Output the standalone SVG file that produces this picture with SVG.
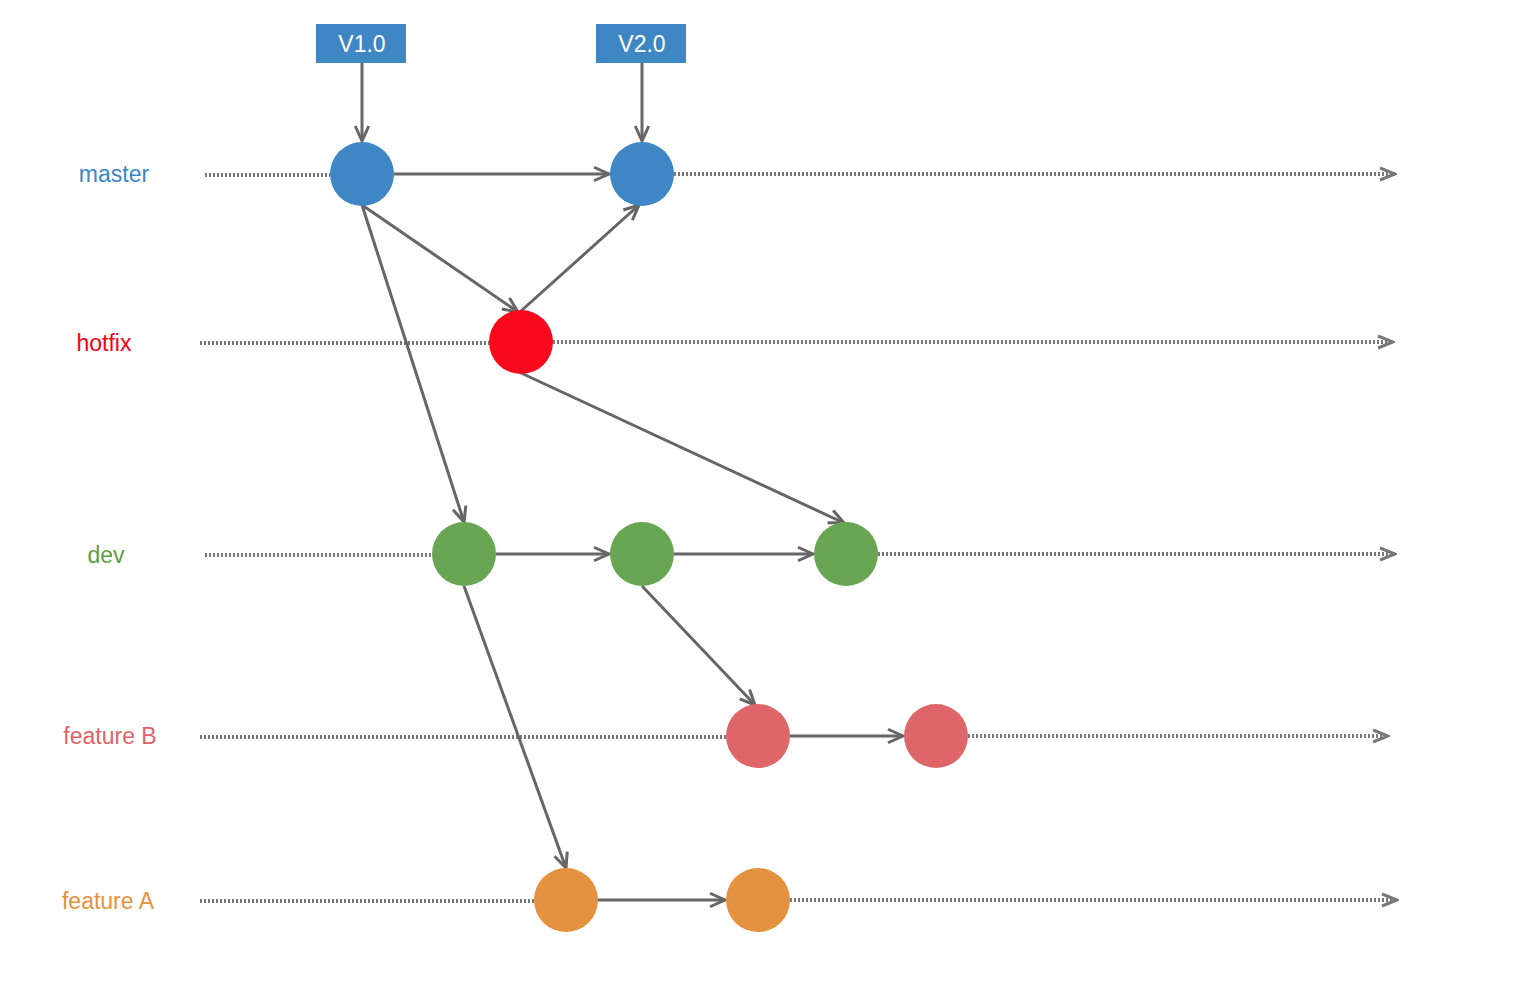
<svg xmlns="http://www.w3.org/2000/svg" width="1528" height="1006" viewBox="0 0 1528 1006">
<style>
.lbl{font-family:"Liberation Sans",Arial,sans-serif;font-size:23px;text-anchor:middle;dominant-baseline:central}
.tag{fill:#3f86c4}
.tagt{font-family:"Liberation Sans",Arial,sans-serif;font-size:23px;fill:#fff;text-anchor:middle;dominant-baseline:central}
.e{stroke:#666;stroke-width:3;fill:none;marker-end:url(#a)}
.d{stroke:#777;stroke-width:4;stroke-dasharray:2 2;fill:none}
.dm{stroke:#777;stroke-width:4;stroke-dasharray:2 2;fill:none;marker-end:url(#b)}
</style>
<defs>
<marker id="a" viewBox="0 0 12 12" refX="11" refY="6" markerWidth="18" markerHeight="18" orient="auto" markerUnits="userSpaceOnUse"><path d="M1,1.5 L11,6 L1,10.5" fill="none" stroke="#666" stroke-width="2"/></marker>
<marker id="b" viewBox="0 0 12 12" refX="11" refY="6" markerWidth="18" markerHeight="18" orient="auto" markerUnits="userSpaceOnUse"><path d="M1,2 L11,6 L1,10" fill="none" stroke="#777" stroke-width="2"/></marker>
</defs>
<g id="labels">
<text class="lbl" x="114" y="174" fill="#3a86c8">master</text>
<text class="lbl" x="104" y="343" fill="#f5001a">hotfix</text>
<text class="lbl" x="106" y="555" fill="#5e9e42">dev</text>
<text class="lbl" x="110" y="736" fill="#e0646a">feature B</text>
<text class="lbl" x="108" y="901" fill="#e8913a">feature A</text>
</g>
<g id="connectors">
<path class="d" d="M205,175H330"/><path class="dm" d="M674,174H1395"/>
<path class="d" d="M200,343H490"/><path class="dm" d="M553,342H1393"/>
<path class="d" d="M205,555H432"/><path class="dm" d="M878,554H1395"/>
<path class="d" d="M200,737H726"/><path class="dm" d="M968,736H1388"/>
<path class="d" d="M200,901H534"/><path class="dm" d="M790,900H1397"/>
<path class="e" d="M362,63V141"/>
<path class="e" d="M642,63V141"/>
<path class="e" d="M394,174H609"/>
<path class="e" d="M362,205L518,312"/>
<path class="e" d="M521,311L639,205"/>
<path class="e" d="M362,205L464,522"/>
<path class="e" d="M521,373L844,523"/>
<path class="e" d="M496,554H609"/>
<path class="e" d="M674,554H813"/>
<path class="e" d="M642,586L755,705"/>
<path class="e" d="M464,586L566,868"/>
<path class="e" d="M790,736H903"/>
<path class="e" d="M598,900H725"/>
</g>
<g id="tag-v1"><rect class="tag" x="316" y="24" width="90" height="39"/><text class="tagt" x="362" y="44">V1.0</text></g>
<g id="tag-v2"><rect class="tag" x="596" y="24" width="90" height="39"/><text class="tagt" x="642" y="44">V2.0</text></g>
<g id="m1"><circle cx="362" cy="174" r="32" fill="#3f86c4"/></g>
<g id="m2"><circle cx="642" cy="174" r="32" fill="#3f86c4"/></g>
<g id="h1"><circle cx="521" cy="342" r="32" fill="#f80a1c"/></g>
<g id="d1"><circle cx="464" cy="554" r="32" fill="#69a653"/></g>
<g id="d2"><circle cx="642" cy="554" r="32" fill="#69a653"/></g>
<g id="d3"><circle cx="846" cy="554" r="32" fill="#69a653"/></g>
<g id="b1"><circle cx="758" cy="736" r="32" fill="#de6668"/></g>
<g id="b2"><circle cx="936" cy="736" r="32" fill="#de6668"/></g>
<g id="a1"><circle cx="566" cy="900" r="32" fill="#e49140"/></g>
<g id="a2"><circle cx="758" cy="900" r="32" fill="#e49140"/></g>
</svg>
